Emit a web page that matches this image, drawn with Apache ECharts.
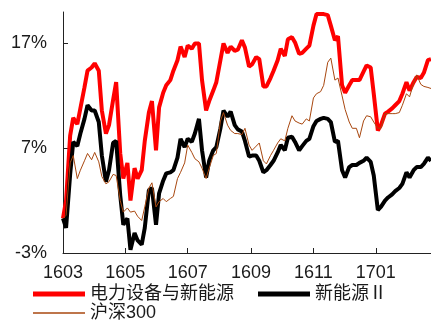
<!DOCTYPE html>
<html>
<head>
<meta charset="utf-8">
<script src="https://cdn.jsdelivr.net/npm/echarts@6/dist/echarts.min.js"></script>
<style>
  html, body { margin: 0; padding: 0; background: #fff; }
  #chart { width: 431px; height: 321px; }
</style>
</head>
<body>
<div id="chart"></div>
<script>
// Trading dates (twice a week), 2016-03 .. 2017-02
const dates = [
  '2016-03-01','2016-03-04','2016-03-08','2016-03-11','2016-03-15','2016-03-18','2016-03-22','2016-03-25','2016-03-29',
  '2016-04-01','2016-04-05','2016-04-08','2016-04-12','2016-04-15','2016-04-19','2016-04-22','2016-04-26','2016-04-29',
  '2016-05-03','2016-05-06','2016-05-10','2016-05-13','2016-05-17','2016-05-20','2016-05-24','2016-05-27','2016-05-31',
  '2016-06-03','2016-06-07','2016-06-10','2016-06-14','2016-06-17','2016-06-21','2016-06-24','2016-06-28',
  '2016-07-01','2016-07-05','2016-07-08','2016-07-12','2016-07-15','2016-07-19','2016-07-22','2016-07-26','2016-07-29',
  '2016-08-02','2016-08-05','2016-08-09','2016-08-12','2016-08-16','2016-08-19','2016-08-23','2016-08-26','2016-08-30',
  '2016-09-02','2016-09-06','2016-09-09','2016-09-13','2016-09-16','2016-09-20','2016-09-23','2016-09-27','2016-09-30',
  '2016-10-04','2016-10-07','2016-10-11','2016-10-14','2016-10-18','2016-10-21','2016-10-25','2016-10-28',
  '2016-11-01','2016-11-04','2016-11-08','2016-11-11','2016-11-15','2016-11-18','2016-11-22','2016-11-25','2016-11-29',
  '2016-12-02','2016-12-06','2016-12-09','2016-12-13','2016-12-16','2016-12-20','2016-12-23','2016-12-27','2016-12-30',
  '2017-01-03','2017-01-06','2017-01-10','2017-01-13','2017-01-17','2017-01-20','2017-01-24','2017-01-27','2017-01-31',
  '2017-02-03','2017-02-07','2017-02-10','2017-02-14','2017-02-17','2017-02-21','2017-02-24'
];

// Cumulative return, %
const powerEquip = [
  0.3, 2.0, 8.2, 9.9, 9.3, 10.8, 12.8, 14.4, 14.7, 15.1, 14.4, 10.6, 8.4, 9.2, 11.6, 13.3,
  6.5, 4.1, 5.6, 2.0, 5.1, 4.1, 4.9, 7.7, 10.4, 11.5, 6.8, 10.9, 12.3, 13.0, 13.5, 14.4,
  15.4, 16.7, 15.7, 16.8, 16.5, 17.0, 17.0, 13.5, 10.6, 11.5, 12.5, 13.3, 15.4, 17.0,
  16.1, 16.7, 16.3, 16.4, 17.3, 16.6, 14.8, 15.0, 15.7, 15.5, 12.9, 12.9, 13.7, 14.4,
  15.4, 16.5, 15.8, 17.4, 17.6, 17.1, 16.0, 16.1, 16.5, 16.8, 18.7, 19.8, 19.8, 19.8,
  19.7, 18.7, 17.3, 17.7, 13.0, 12.3, 13.0, 13.5, 13.5, 13.5, 14.3, 14.9, 14.7, 12.2,
  8.7, 9.2, 10.3, 10.5, 10.8, 11.1, 11.5, 12.2, 13.3, 12.5, 13.3, 13.8, 13.7, 14.2, 15.4, 15.5
];
const newEnergy = [
  0.3, -0.6, 4.5, 7.6, 7.2, 8.4, 9.8, 11.1, 10.6, 10.6, 9.5, 6.3, 3.8, 4.9, 7.5, 7.7,
  2.5, -0.3, 0.3, -2.7, -1.1, -1.8, -2.2, -0.6, 3.0, 3.2, -0.3, 2.7, 3.9, 4.6, 4.7, 4.9,
  6.1, 7.9, 7.1, 7.9, 7.6, 8.4, 9.8, 6.8, 4.2, 5.8, 6.8, 7.1, 8.9, 10.6,
  10.0, 10.5, 9.2, 8.8, 8.6, 7.7, 6.2, 6.3, 6.3, 5.8, 4.7, 4.9, 5.4, 5.8,
  6.6, 7.3, 6.8, 8.0, 8.1, 7.6, 6.8, 7.2, 7.7, 7.9, 9.1, 9.6, 9.8, 9.9,
  9.8, 9.5, 7.6, 7.7, 4.9, 4.2, 5.2, 5.4, 5.4, 5.6, 5.8, 6.1, 5.7, 4.4,
  1.1, 1.4, 2.0, 2.3, 2.6, 2.9, 3.2, 3.6, 4.7, 4.2, 4.9, 5.2, 5.2, 5.5, 6.1, 5.8
];
const hs300 = [
  0.3, 0.6, 5.6, 6.3, 4.1, 4.9, 5.8, 6.5, 5.9, 6.6, 5.7, 4.3, 3.6, 3.8, 4.5, 4.4,
  2.0, 0.9, 1.3, 0.9, 1.0, 0.5, 0.1, 1.4, 3.2, 3.7, 1.4, 1.9, 2.2, 1.9, 2.2, 2.4,
  4.1, 4.7, 5.6, 7.3, 6.6, 6.0, 5.7, 5.1, 4.1, 5.1, 6.3, 6.5, 9.6, 10.4,
  9.2, 8.7, 8.4, 8.4, 8.3, 8.9, 7.3, 6.8, 7.2, 7.5, 5.8, 5.5, 6.3, 6.8,
  7.5, 7.9, 7.7, 8.9, 10.1, 9.6, 9.4, 9.3, 9.8, 9.6, 11.8, 12.2, 12.4, 13.0,
  15.2, 15.6, 13.5, 13.7, 12.0, 10.7, 9.5, 8.9, 8.9, 8.0, 9.6, 10.1, 10.0, 9.5,
  8.9, 8.9, 10.3, 10.3, 10.3, 10.3, 10.4, 11.1, 12.2, 11.9, 13.2, 14.0, 13.1, 12.9, 12.8, 12.7
];

const monthTicks = ['1603', '1605', '1607', '1609', '1611', '1701'];
const yTicks = [-3, 7, 17];
const seriesNames = ['电力设备与新能源', '新能源Ⅱ', '沪深300'];

// dates are placed on a plain numeric axis (days since the first date)
const DAY = 86400000;
const utc = (y, m, d) => Date.UTC(y, m - 1, d);
const t0 = (() => { const p = dates[0].split('-'); return utc(+p[0], +p[1], +p[2]); })();
const dayOf = s => { const p = s.split('-'); return Math.round((utc(+p[0], +p[1], +p[2]) - t0) / DAY); };
const monthDay = s => Math.round((utc(2000 + +s.slice(0, 2), +s.slice(2), 1) - t0) / DAY);
const tickDays = monthTicks.map(monthDay);
const tickLabelOf = {};
monthTicks.forEach((s, i) => { tickLabelOf[tickDays[i]] = s; });
const pair = arr => dates.map((d, i) => [dayOf(d), arr[i]]);

const latin = 'Liberation Sans, Arial, sans-serif';
const mixed = 'Liberation Sans, Noto Sans CJK SC, sans-serif';

const legendBase = {
  orient: 'horizontal',
  itemWidth: 52,
  itemGap: 10,
  padding: 0,
  textStyle: { fontFamily: mixed, fontSize: 18, color: '#1a1a1a', lineHeight: 18 }
};

const chart = echarts.init(document.getElementById('chart'), null, { renderer: 'canvas' });
chart.setOption({
  animation: false,
  backgroundColor: '#fff',
  grid: { left: 63, right: 0, top: 12, bottom: 68, containLabel: false },
  legend: [
    Object.assign({}, legendBase, { left: 33, top: 285, itemHeight: 5, data: [{ name: seriesNames[0], icon: 'rect' }] }),
    Object.assign({}, legendBase, { left: 258, top: 285, itemHeight: 5, data: [{ name: seriesNames[1], icon: 'rect' }] }),
    Object.assign({}, legendBase, { left: 33, top: 304, itemHeight: 1.5, data: [{ name: seriesNames[2], icon: 'rect' }] })
  ],
  xAxis: {
    type: 'value',
    min: 0,
    max: dayOf(dates[dates.length - 1]),
    axisLine: { show: true, onZero: false, lineStyle: { color: '#222', width: 1 } },
    axisTick: { show: true, inside: true, length: 5, customValues: tickDays, lineStyle: { color: '#222' } },
    axisLabel: {
      customValues: tickDays,
      formatter: v => tickLabelOf[v] || '',
      fontFamily: latin, fontSize: 18, color: '#1a1a1a', margin: 11
    },
    splitLine: { show: false }
  },
  yAxis: {
    type: 'value',
    min: -3,
    max: 20,
    interval: 10,
    axisLine: { show: true, onZero: false, lineStyle: { color: '#222', width: 1 } },
    axisTick: { show: true, inside: true, length: 5, customValues: yTicks, lineStyle: { color: '#222' } },
    axisLabel: {
      customValues: yTicks,
      formatter: '{value}%',
      fontFamily: latin, fontSize: 18, color: '#1a1a1a', margin: 16
    },
    splitLine: { show: false }
  },
  series: [
    { name: seriesNames[0], type: 'line', data: pair(powerEquip), showSymbol: false, color: '#FF0000', lineStyle: { width: 4, color: '#FF0000' } },
    { name: seriesNames[1], type: 'line', data: pair(newEnergy), showSymbol: false, color: '#000000', lineStyle: { width: 4, color: '#000000' } },
    { name: seriesNames[2], type: 'line', data: pair(hs300), showSymbol: false, color: '#A8470F', lineStyle: { width: 1, color: '#A8470F' } }
  ]
});
</script>
</body>
</html>
